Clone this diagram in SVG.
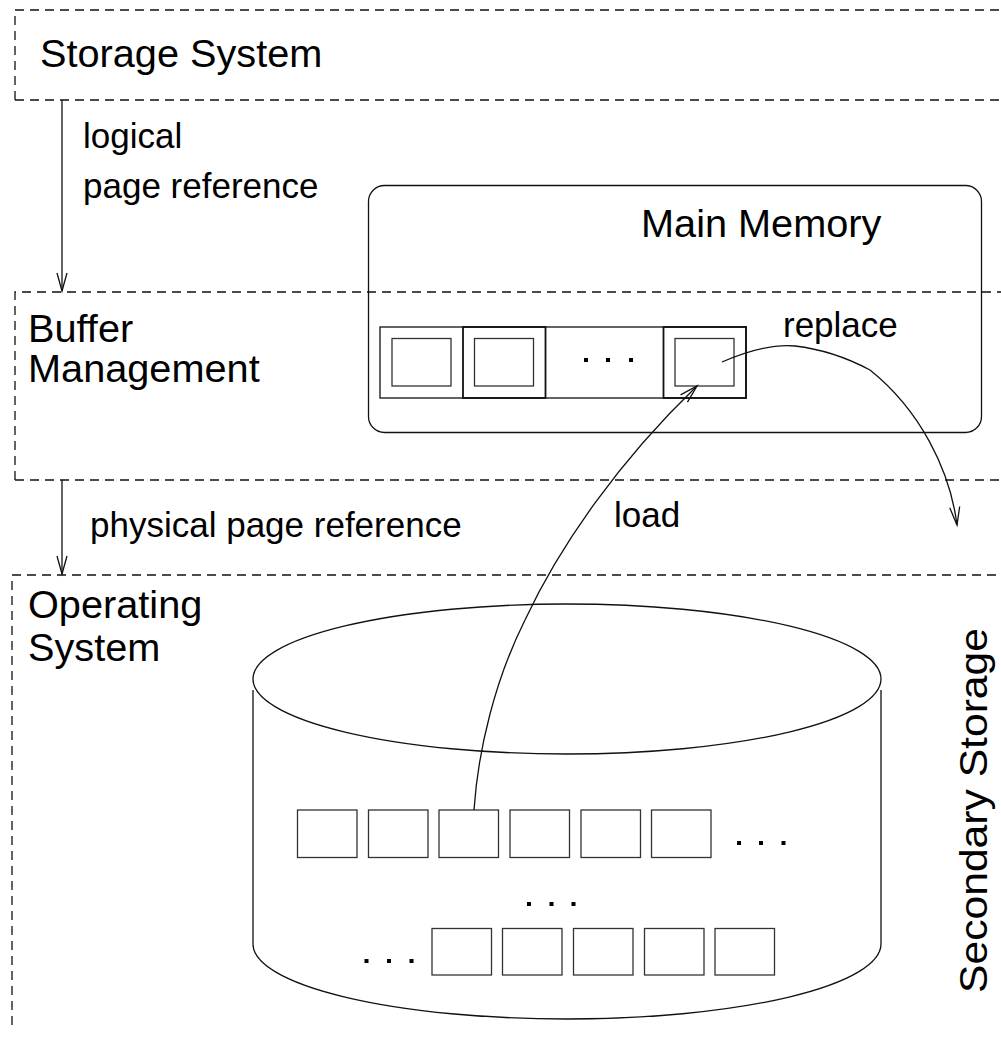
<svg xmlns="http://www.w3.org/2000/svg" width="1001" height="1039" viewBox="0 0 1001 1039">
  <style>
    .layer { fill: none; stroke: #111; stroke-width: 1.3; stroke-dasharray: 9 6; }
    .line { fill: none; stroke: #111; stroke-width: 1.3; }
    .frame { fill: none; stroke: #222; stroke-width: 1.4; }
    .frame-strong { fill: none; stroke: #111; stroke-width: 1.8; }
    .page { fill: #fff; stroke: #333; stroke-width: 1.3; }
    .big { font-family: "Liberation Sans", Arial, sans-serif; font-size: 39.7px; fill: #000; }
    .small { font-family: "Liberation Sans", Arial, sans-serif; font-size: 35px; fill: #000; }
    .dot { fill: #000; }
  </style>
  <defs>
    <marker id="open-arrow" markerUnits="userSpaceOnUse" markerWidth="24" markerHeight="14" viewBox="-20 -7 22 14" refX="0" refY="0" orient="auto">
      <path d="M-18,-5 L0,0 L-18,5" fill="none" stroke="#111" stroke-width="1.3"/>
    </marker>
  </defs>

  <rect width="1001" height="1039" fill="#fff"/>

  <!-- layer: storage system -->
  <g id="layer-storage-system">
    <path class="layer" d="M15,100 L15,10 L1010,10 M15,100 L1010,100"/>
    <text class="big" x="40" y="67">Storage System</text>
  </g>

  <!-- layer: buffer management -->
  <g id="layer-buffer-management">
    <path class="layer" d="M15,480 L15,292 L1010,292 M15,480 L1010,480"/>
    <text class="big" x="28" y="342">Buffer</text>
    <text class="big" x="28" y="382">Management</text>
  </g>

  <!-- layer: operating system -->
  <g id="layer-operating-system">
    <path class="layer" d="M12,1025 L12,575 L1010,575"/>
    <text class="big" x="28" y="618">Operating</text>
    <text class="big" x="28" y="661">System</text>
  </g>

  <!-- main memory with buffer frames -->
  <g id="main-memory">
    <rect class="line" x="368.5" y="185.5" width="613" height="247" rx="16" ry="16"/>
    <text class="big" x="641" y="237">Main Memory</text>
    <rect class="frame" x="380" y="327" width="366" height="71"/>
    <rect class="frame-strong" x="463" y="327" width="82.5" height="71"/>
    <rect class="frame-strong" x="663.5" y="327" width="82.5" height="71"/>
    <rect class="page" x="392" y="338.5" width="59" height="47.5"/>
    <rect class="page" x="474.5" y="338.5" width="59" height="47.5"/>
    <rect class="page" x="675" y="338.5" width="59" height="47.5"/>
    <rect class="dot" x="584" y="358" width="4" height="4"/>
    <rect class="dot" x="606" y="358" width="4" height="4"/>
    <rect class="dot" x="629" y="358" width="4" height="4"/>
  </g>

  <!-- secondary storage disk -->
  <g id="secondary-storage">
    <ellipse class="line" cx="567" cy="679" rx="314" ry="75"/>
    <path class="line" d="M253,690 L253,944 A314,75 0 0 0 881,944 L881,690"/>
    <g id="disk-row-1">
      <rect class="page" x="297.5" y="810" width="59.5" height="47.5"/>
      <rect class="page" x="368.5" y="810" width="59.5" height="47.5"/>
      <rect class="page" x="439" y="810" width="59.5" height="47.5"/>
      <rect class="page" x="510" y="810" width="59.5" height="47.5"/>
      <rect class="page" x="581" y="810" width="59.5" height="47.5"/>
      <rect class="page" x="651.5" y="810" width="59.5" height="47.5"/>
      <rect class="dot" x="737" y="841" width="4" height="4"/>
      <rect class="dot" x="759" y="841" width="4" height="4"/>
      <rect class="dot" x="781.5" y="841" width="4" height="4"/>
    </g>
    <g id="disk-gap">
      <rect class="dot" x="527" y="902" width="4" height="4"/>
      <rect class="dot" x="549.5" y="902" width="4" height="4"/>
      <rect class="dot" x="571.5" y="902" width="4" height="4"/>
    </g>
    <g id="disk-row-2">
      <rect class="dot" x="364.5" y="959" width="4" height="4"/>
      <rect class="dot" x="387" y="959" width="4" height="4"/>
      <rect class="dot" x="409.5" y="959" width="4" height="4"/>
      <rect class="page" x="432" y="928.5" width="59.5" height="46.5"/>
      <rect class="page" x="502.5" y="928.5" width="59.5" height="46.5"/>
      <rect class="page" x="573.5" y="928.5" width="59.5" height="46.5"/>
      <rect class="page" x="644.5" y="928.5" width="59.5" height="46.5"/>
      <rect class="page" x="715" y="928.5" width="59.5" height="46.5"/>
    </g>
    <text class="big" transform="translate(987,993) rotate(-90)" x="0" y="0" font-size="44" textLength="365" lengthAdjust="spacingAndGlyphs">Secondary Storage</text>
  </g>

  <!-- connectors -->
  <g id="connectors">
    <line class="line" x1="62" y1="100" x2="62" y2="291" marker-end="url(#open-arrow)"/>
    <text class="small" x="83" y="148">logical</text>
    <text class="small" x="83" y="198">page reference</text>

    <line class="line" x1="62" y1="480" x2="62" y2="574" marker-end="url(#open-arrow)"/>
    <text class="small" x="90" y="537">physical page reference</text>

    <path class="line" d="M474,810 C478,750 495,680 525,620 C560,545 620,460 697,386" marker-end="url(#open-arrow)"/>
    <text class="small" x="614" y="527">load</text>

    <path class="line" d="M722,362 C750,350 775,344 795,346 C830,350 855,362 870,370 C920,410 950,470 957,525" marker-end="url(#open-arrow)"/>
    <text class="small" x="783" y="337">replace</text>
  </g>
</svg>
